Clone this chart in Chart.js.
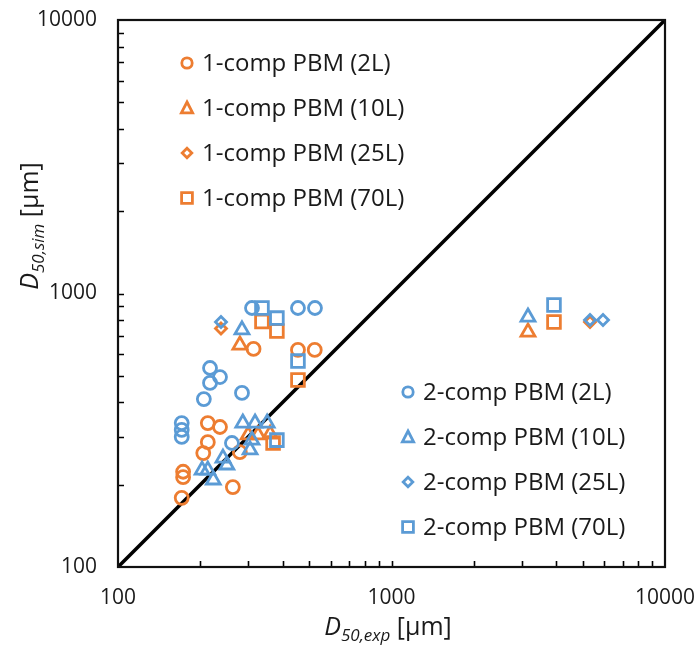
<!DOCTYPE html>
<html>
<head>
<meta charset="utf-8">
<script src="https://cdn.jsdelivr.net/npm/chart.js@4.4.1/dist/chart.umd.min.js"></script>
<style>
  html, body { margin: 0; padding: 0; background: #fff; }
  #wrap { width: 697px; height: 656px; }
</style>
</head>
<body>
<div id="wrap"><canvas id="chart" width="697" height="656"></canvas></div>
<script>
const ORANGE = '#ED7D31';
const BLUE = '#5B9BD5';

// [D50 exp, D50 sim] in µm
const oneComp2L = [[263,196],[171,179],[173,223],[173,213],[205,261],[213,286],[213,336],[236,325],[279,263],[313,627],[455,622],[524,622]];
const oneComp10L = [[279,648],[299,304],[325,304],[360,306],[3155,723]];
const oneComp25L = [[238,745],[5319,787]];
const oneComp70L = [[336,790],[381,729],[455,483],[369,284],[3927,787]];
const twoComp2L = [[171,336],[171,317],[171,299],[217,534],[236,495],[217,471],[206,411],[284,433],[261,284],[309,885],[455,885],[525,885]];
const twoComp10L = [[284,736],[286,336],[317,336],[351,336],[304,268],[309,291],[203,226],[213,226],[242,250],[250,236],[223,208],[3155,820]];
const twoComp25L = [[238,787],[5319,800],[5934,800]];
const twoComp70L = [[336,885],[381,813],[455,566],[381,291],[3927,908]];

const parityLine = [[100,100],[10000,10000]];
const tickValues = [100, 1000, 10000];

const oneCompLabels = ['1-comp PBM (2L)', '1-comp PBM (10L)', '1-comp PBM (25L)', '1-comp PBM (70L)'];
const twoCompLabels = ['2-comp PBM (2L)', '2-comp PBM (10L)', '2-comp PBM (25L)', '2-comp PBM (70L)'];
const markerStyles = ['circle', 'triangle', 'rectRot', 'rect'];
const markerSizes = [6.5, 8, 5.5, 9];

const toXY = arr => arr.map(p => ({ x: p[0], y: p[1] }));

function seriesSet(label, data, color, i, order) {
    return {
        label: label,
        data: toXY(data),
        pointStyle: markerStyles[i],
        pointRadius: markerSizes[i],
        pointBorderWidth: 2.8,
        borderColor: color,
        backgroundColor: 'rgba(0,0,0,0)',
        pointBackgroundColor: 'rgba(0,0,0,0)',
        pointBorderColor: color,
        order: order
    };
}

const FONT = '"Open Sans", "Liberation Sans", sans-serif';

// small legend glyphs
function drawGlyph(ctx, style, x, y, color) {
    ctx.save();
    ctx.strokeStyle = color;
    ctx.lineWidth = 2.8;
    ctx.beginPath();
    if (style === 'circle') {
        ctx.arc(x, y, 5.2, 0, Math.PI * 2);
    } else if (style === 'triangle') {
        ctx.moveTo(x, y - 6);
        ctx.lineTo(x + 5.6, y + 4.8);
        ctx.lineTo(x - 5.6, y + 4.8);
        ctx.closePath();
    } else if (style === 'rectRot') {
        ctx.moveTo(x, y - 4.8);
        ctx.lineTo(x + 4.8, y);
        ctx.lineTo(x, y + 4.8);
        ctx.lineTo(x - 4.8, y);
        ctx.closePath();
    } else {
        ctx.rect(x - 5.4, y - 5.4, 10.8, 10.8);
    }
    ctx.stroke();
    ctx.restore();
}

function drawLegend(ctx, labels, color, x, y0, step) {
    ctx.save();
    ctx.font = '24px ' + FONT;
    ctx.fillStyle = '#1a1a1a';
    ctx.textBaseline = 'middle';
    ctx.textAlign = 'left';
    labels.forEach((txt, i) => {
        const y = y0 + i * step;
        drawGlyph(ctx, markerStyles[i], x, y, color);
        ctx.fillText(txt, x + 15, y + 1);
    });
    ctx.restore();
}

// "D" + italic subscript + " [µm]"
function drawAxisTitle(ctx, sub, cx, cy, rotate) {
    ctx.save();
    ctx.translate(cx, cy);
    if (rotate) ctx.rotate(-Math.PI / 2);
    ctx.fillStyle = '#1a1a1a';
    ctx.textBaseline = 'alphabetic';
    const big = 'italic 25px ' + FONT;
    const small = 'italic 17px ' + FONT;
    const rest = '25px ' + FONT;
    ctx.font = big; const wD = ctx.measureText('D').width;
    ctx.font = small; const wS = ctx.measureText(sub).width;
    ctx.font = rest; const wR = ctx.measureText(' [µm]').width;
    let x = -(wD + wS + wR) / 2;
    const base = 8;
    ctx.font = big; ctx.fillText('D', x, base); x += wD;
    ctx.font = small; ctx.fillText(sub, x, base + 6); x += wS;
    ctx.font = rest; ctx.fillText(' [µm]', x, base);
    ctx.restore();
}

const framePlugin = {
    id: 'frame',
    afterDraw(chart) {
        const ctx = chart.ctx;
        const area = chart.chartArea;
        const xs = chart.scales.x, ys = chart.scales.y;
        ctx.save();

        // minor/major tick marks pointing inward
        ctx.strokeStyle = '#000';
        ctx.lineWidth = 1.6;
        ctx.beginPath();
        for (let d = 100; d < 10000; d *= 10) {
            for (let m = 1; m <= 9; m++) {
                const v = d * m;
                if (v === 100) continue;
                const px = Math.round(xs.getPixelForValue(v)) + 0.5;
                ctx.moveTo(px, area.bottom);
                ctx.lineTo(px, area.bottom - 6);
                const py = Math.round(ys.getPixelForValue(v)) + 0.5;
                ctx.moveTo(area.left, py);
                ctx.lineTo(area.left + 6, py);
            }
        }
        ctx.stroke();

        // plot frame
        ctx.lineWidth = 2.2;
        ctx.strokeStyle = '#111';
        ctx.strokeRect(area.left, area.top, area.right - area.left, area.bottom - area.top);

        // tick labels
        ctx.fillStyle = '#1a1a1a';
        ctx.font = '21px ' + FONT;
        ctx.textBaseline = 'middle';
        ctx.textAlign = 'center';
        tickValues.forEach(v => {
            ctx.fillText(String(v), xs.getPixelForValue(v), area.bottom + 31);
        });
        ctx.textAlign = 'right';
        tickValues.forEach(v => {
            ctx.fillText(String(v), area.left - 21, ys.getPixelForValue(v));
        });
        ctx.restore();

        drawAxisTitle(ctx, '50,exp', 388, 627, false);
        drawAxisTitle(ctx, '50,sim', 30, 226, true);

        drawLegend(ctx, oneCompLabels, ORANGE, 187, 63, 45);
        drawLegend(ctx, twoCompLabels, BLUE, 408, 392, 45);
    }
};

new Chart(document.getElementById('chart'), {
    type: 'scatter',
    data: {
        datasets: [
            seriesSet(oneCompLabels[0], oneComp2L, ORANGE, 0, 2),
            seriesSet(oneCompLabels[1], oneComp10L, ORANGE, 1, 2),
            seriesSet(oneCompLabels[2], oneComp25L, ORANGE, 2, 2),
            seriesSet(oneCompLabels[3], oneComp70L, ORANGE, 3, 2),
            seriesSet(twoCompLabels[0], twoComp2L, BLUE, 0, 1),
            seriesSet(twoCompLabels[1], twoComp10L, BLUE, 1, 1),
            seriesSet(twoCompLabels[2], twoComp25L, BLUE, 2, 1),
            seriesSet(twoCompLabels[3], twoComp70L, BLUE, 3, 1),
            {
                type: 'line',
                label: 'y = x',
                data: toXY(parityLine),
                borderColor: '#000',
                borderWidth: 3.5,
                pointRadius: 0,
                order: 3
            }
        ]
    },
    options: {
        responsive: false,
        devicePixelRatio: 1,
        animation: false,
        layout: {
            padding: { left: 118, top: 20, right: 32, bottom: 89 }
        },
        plugins: {
            legend: { display: false },
            tooltip: { enabled: false }
        },
        scales: {
            x: {
                type: 'logarithmic',
                min: 100,
                max: 10000,
                ticks: { display: false },
                grid: { display: false },
                border: { display: false },
                afterFit(s) { s.height = 0; }
            },
            y: {
                type: 'logarithmic',
                min: 100,
                max: 10000,
                ticks: { display: false },
                grid: { display: false },
                border: { display: false },
                afterFit(s) { s.width = 0; }
            }
        }
    },
    plugins: [framePlugin]
});
</script>
</body>
</html>
